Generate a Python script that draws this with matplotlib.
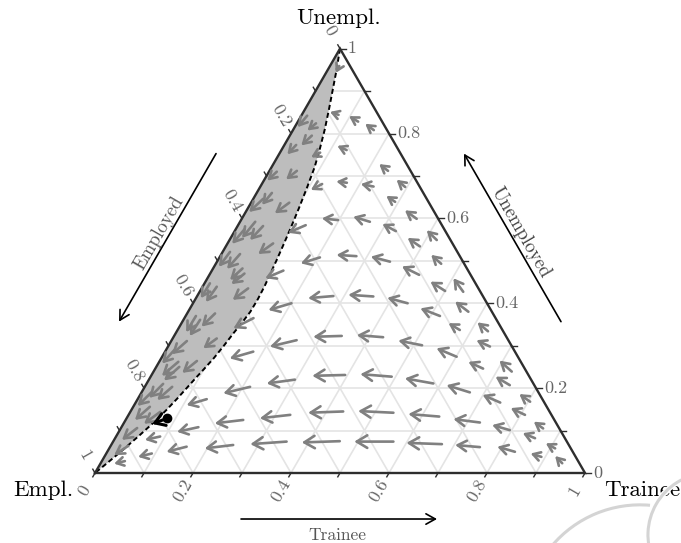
import numpy as np
import matplotlib
matplotlib.use("Agg")
import matplotlib.pyplot as plt
import matplotlib.patheffects as pe
from matplotlib.patches import Polygon, Arc

plt.rcParams['font.family'] = ['cmr10', 'DejaVu Serif']
plt.rcParams['axes.formatter.use_mathtext'] = True

# ---------------------------------------------------------------------------
# Data: shares (Trainee, Unemployed); Employed = 1 - Trainee - Unemployed
# ---------------------------------------------------------------------------
# one time step of the flow, outside the shaded basin
flow_t0 = [0.075, 0.123, 0.165, 0.133, 0.242, 0.296, 0.172, 0.231, 0.293, 0.357,
           0.423, 0.198, 0.265, 0.329, 0.396, 0.460, 0.138, 0.205, 0.278, 0.353,
           0.428, 0.500, 0.538, 0.146, 0.201, 0.278, 0.360, 0.438, 0.519, 0.572,
           0.141, 0.255, 0.342, 0.428, 0.517, 0.601, 0.576, 0.635, 0.657, 0.669,
           0.731, 0.180, 0.395, 0.492, 0.585, 0.670, 0.298, 0.215, 0.141, 0.743,
           0.744, 0.804, 0.809, 0.862, 0.796, 0.857, 0.910, 0.892, 0.942, 0.832,
           0.726, 0.636, 0.538, 0.434, 0.330, 0.240, 0.157, 0.090, 0.755, 0.674,
           0.572, 0.462, 0.354, 0.249, 0.156, 0.093, 0.047, 0.123]
flow_u0 = [0.844, 0.828, 0.808, 0.761, 0.712, 0.674, 0.684, 0.675, 0.639, 0.599,
           0.549, 0.596, 0.592, 0.570, 0.534, 0.493, 0.584, 0.508, 0.511, 0.498,
           0.467, 0.429, 0.427, 0.477, 0.400, 0.417, 0.416, 0.400, 0.370, 0.380,
           0.365, 0.313, 0.323, 0.320, 0.301, 0.274, 0.337, 0.334, 0.298, 0.246,
           0.239, 0.286, 0.231, 0.227, 0.211, 0.190, 0.220, 0.203, 0.174, 0.207,
           0.166, 0.168, 0.137, 0.105, 0.101, 0.082, 0.058, 0.038, 0.023, 0.050,
           0.119, 0.133, 0.142, 0.145, 0.137, 0.125, 0.108, 0.086, 0.061, 0.068,
           0.074, 0.075, 0.074, 0.066, 0.062, 0.046, 0.028, 0.681]
flow_t1 = [0.054, 0.098, 0.140, 0.109, 0.216, 0.270, 0.149, 0.202, 0.268, 0.323,
           0.391, 0.163, 0.225, 0.293, 0.361, 0.429, 0.111, 0.173, 0.236, 0.308,
           0.383, 0.459, 0.502, 0.118, 0.162, 0.229, 0.307, 0.390, 0.470, 0.533,
           0.112, 0.208, 0.285, 0.372, 0.463, 0.550, 0.545, 0.603, 0.622, 0.631,
           0.693, 0.140, 0.329, 0.425, 0.521, 0.614, 0.245, 0.168, 0.107, 0.704,
           0.699, 0.773, 0.772, 0.835, 0.754, 0.826, 0.885, 0.866, 0.919, 0.790,
           0.668, 0.570, 0.464, 0.364, 0.272, 0.186, 0.119, 0.063, 0.702, 0.600,
           0.492, 0.386, 0.283, 0.195, 0.121, 0.069, 0.028, 0.107]
flow_u1 = [0.851, 0.841, 0.823, 0.771, 0.728, 0.691, 0.687, 0.681, 0.653, 0.619,
           0.572, 0.600, 0.604, 0.587, 0.554, 0.514, 0.566, 0.494, 0.514, 0.510,
           0.487, 0.451, 0.459, 0.459, 0.384, 0.412, 0.420, 0.413, 0.388, 0.404,
           0.341, 0.298, 0.321, 0.325, 0.312, 0.294, 0.353, 0.355, 0.313, 0.262,
           0.265, 0.270, 0.229, 0.233, 0.223, 0.207, 0.211, 0.188, 0.160, 0.227,
           0.184, 0.186, 0.153, 0.121, 0.113, 0.094, 0.070, 0.046, 0.040, 0.062,
           0.127, 0.139, 0.146, 0.142, 0.129, 0.117, 0.097, 0.078, 0.066, 0.071,
           0.074, 0.072, 0.068, 0.058, 0.050, 0.038, 0.022, 0.667]

# one time step of the flow inside the shaded basin
basin_t0 = [0.019, 0.039, 0.082, 0.024, 0.016, 0.056, 0.020, 0.031, 0.078, 0.031,
            0.052, 0.093, 0.015, 0.038, 0.060, 0.011, 0.029, 0.095, 0.057, 0.021,
            0.034, 0.090, 0.032, 0.039, 0.076, 0.034, 0.056, 0.034, 0.061, 0.033,
            0.036, 0.012, 0.045, 0.018, 0.070, 0.017, 0.047, 0.020]
basin_u0 = [0.959, 0.824, 0.755, 0.773, 0.710, 0.712, 0.646, 0.660, 0.637, 0.592,
            0.582, 0.541, 0.521, 0.516, 0.482, 0.447, 0.439, 0.435, 0.376, 0.370,
            0.361, 0.317, 0.311, 0.262, 0.264, 0.210, 0.203, 0.156, 0.144, 0.106,
            0.064, 0.842, 0.795, 0.575, 0.470, 0.290, 0.250, 0.190]
basin_t1 = [0.020, 0.030, 0.069, 0.017, 0.007, 0.044, 0.007, 0.025, 0.061, 0.023,
            0.042, 0.075, 0.010, 0.029, 0.048, 0.010, 0.025, 0.077, 0.045, 0.020,
            0.032, 0.074, 0.017, 0.022, 0.060, 0.022, 0.041, 0.019, 0.042, 0.016,
            0.018, 0.006, 0.035, 0.010, 0.056, 0.008, 0.032, 0.008]
basin_u1 = [0.943, 0.807, 0.744, 0.751, 0.689, 0.692, 0.615, 0.632, 0.612, 0.554,
            0.549, 0.516, 0.486, 0.481, 0.455, 0.412, 0.403, 0.408, 0.345, 0.332,
            0.323, 0.294, 0.280, 0.229, 0.236, 0.177, 0.172, 0.125, 0.116, 0.078,
            0.042, 0.815, 0.772, 0.540, 0.445, 0.258, 0.218, 0.158]

# boundary of the basin (dashed curve), from the Unempl. corner down to Empl.
boundary_t = [0.0, 0.018, 0.048, 0.064, 0.078, 0.088, 0.096, 0.104, 0.111,
              0.116, 0.120, 0.123, 0.126, 0.1275, 0.127, 0.123, 0.118, 0.113,
              0.107, 0.100, 0.094, 0.087, 0.080, 0.072, 0.063, 0.047, 0.030,
              0.014, 0.0]
boundary_u = [1.0, 0.95, 0.86, 0.81, 0.76, 0.72, 0.675, 0.625, 0.575,
              0.535, 0.50, 0.47, 0.44, 0.41, 0.38, 0.355, 0.33, 0.30,
              0.27, 0.245, 0.225, 0.20, 0.175, 0.15, 0.125, 0.09, 0.055,
              0.025, 0.0]

# highlighted state and its next step
state_t, state_u = 0.083, 0.129
state_next_t, state_next_u = 0.059, 0.1155

tick_values = [0.0, 0.2, 0.4, 0.6, 0.8, 1.0]
tick_labels = ['0', '0.2', '0.4', '0.6', '0.8', '1']
corner_labels = ['Empl.', 'Trainee', 'Unempl.']
edge_titles = ['Employed', 'Unemployed', 'Trainee']

# ---------------------------------------------------------------------------
SQ3 = np.sqrt(3) / 2


def to_xy(t, u):
    t = np.asarray(t, float)
    u = np.asarray(u, float)
    return t + u / 2, u * SQ3


fig = plt.figure(figsize=(6.81, 5.43), dpi=100)
ax = fig.add_axes([0, 0, 1, 1])
ax.set_xlim(-0.19388, 1.19592)
ax.set_ylim(-0.142857, 0.965306)
ax.axis('off')

GRID = '#e4e4e4'
EDGE = '#2e2e2e'
TICKC = '#666666'

# grid every 0.1 in all three directions
for s in np.arange(1, 10) / 10:
    ax.plot(*to_xy([0, 1 - s], [s, s]), color=GRID, lw=1.2, zorder=1)
    ax.plot(*to_xy([s, s], [0, 1 - s]), color=GRID, lw=1.2, zorder=1)
    ax.plot(*to_xy([1 - s, 0], [0, 1 - s]), color=GRID, lw=1.2, zorder=1)

# shaded basin between the Employed edge and the dashed boundary
bx, by = to_xy(boundary_t, boundary_u)
ax.add_patch(Polygon(np.column_stack([bx, by]), closed=True,
                     facecolor='#bdbdbd', edgecolor='none', zorder=2))
ax.plot(bx, by, color='black', lw=1.4, ls=(0, (2.6, 1.6)), zorder=4,
        solid_joinstyle='round', dash_joinstyle='round')

# triangle outline
vx, vy = to_xy([0, 1, 0, 0], [0, 0, 1, 0])
ax.plot(vx, vy, color=EDGE, lw=1.7, zorder=4, solid_joinstyle='miter')

# ticks and tick labels
minor = np.arange(0, 11) / 10
tick_len = 0.009
lab_off = 0.042
d_bottom = np.array([-0.5, -SQ3])
d_left = np.array([-0.5, SQ3])
d_right = np.array([1.0, 0.0])
for v in minor:
    bxy = np.array(to_xy(v, 0))
    ax.plot(*zip(bxy, bxy + tick_len * d_bottom), color=EDGE, lw=1.0, zorder=4)
    lxy = np.array(to_xy(0, 1 - v))
    ax.plot(*zip(lxy, lxy + tick_len * d_left), color=EDGE, lw=1.0, zorder=4)
    rxy = np.array(to_xy(1 - v, v))
    ax.plot(*zip(rxy, rxy + 0.012 * d_right), color=EDGE, lw=1.0, zorder=4)

for v, lab in zip(tick_values, tick_labels):
    p = np.array(to_xy(v, 0)) + lab_off * d_bottom
    ax.text(p[0], p[1], lab, rotation=60, ha='center', va='center',
            fontsize=13, color=TICKC)
    p = np.array(to_xy(0, 1 - v)) + lab_off * d_left
    ax.text(p[0], p[1], lab, rotation=-60, ha='center', va='center',
            fontsize=13, color=TICKC)
    p = np.array(to_xy(1 - v, v)) + 0.016 * d_right
    ax.text(p[0], p[1], lab, ha='left', va='center', fontsize=13, color=TICKC)

# corner labels
ax.text(-0.045, -0.035, corner_labels[0], ha='right', va='center', fontsize=16.5)
ax.text(1.039, -0.035, corner_labels[1], ha='left', va='center', fontsize=16.5)
ax.text(0.498, 0.929, corner_labels[2], ha='center', va='center', fontsize=16.5)

# edge titles with direction arrows
edge_dir_l = np.array([-0.5, -SQ3])
norm_l = np.array([-SQ3, 0.5])
mid_l = np.array([0.25, SQ3 / 2]) + 0.112 * norm_l + 0.01 * edge_dir_l
edge_dir_r = np.array([-0.5, SQ3])
norm_r = np.array([SQ3, 0.5])
mid_r = np.array([0.75, SQ3 / 2]) + 0.112 * norm_r - 0.01 * edge_dir_r
half = 0.198
title_arrow = dict(arrowstyle='->,head_length=0.45,head_width=0.25', lw=1.2,
                   color='black', shrinkA=0, shrinkB=0, mutation_scale=15)
ax.annotate('', xy=mid_l + half * edge_dir_l, xytext=mid_l - half * edge_dir_l,
            arrowprops=title_arrow)
ax.annotate('', xy=mid_r + half * edge_dir_r, xytext=mid_r - half * edge_dir_r,
            arrowprops=title_arrow)
ax.annotate('', xy=(0.698, -0.0939), xytext=(0.298, -0.0939),
            arrowprops=title_arrow)
pl = mid_l + 0.02 * norm_l
ax.text(pl[0], pl[1], edge_titles[0], rotation=60, ha='center', va='center',
        fontsize=13.5, color='#555555')
pr = mid_r + 0.02 * norm_r
ax.text(pr[0], pr[1], edge_titles[1], rotation=-60, ha='center', va='center',
        fontsize=13.5, color='#444444')
ax.text(0.494, -0.1265, edge_titles[2], ha='center', va='center',
        fontsize=12.5, color='#555555')


# flow arrows
def draw_steps(t0, u0, t1, u1, color='#808080', lw=1.9):
    x0, y0 = to_xy(t0, u0)
    x1, y1 = to_xy(t1, u1)
    for a, b, c, d in zip(x0, y0, x1, y1):
        length = np.hypot(c - a, d - b)
        ms = 6.0 + 60 * length
        ax.annotate('', xy=(c, d), xytext=(a, b), zorder=5,
                    arrowprops=dict(arrowstyle='->,head_length=0.7,head_width=0.42',
                                    color=color, lw=lw, shrinkA=0, shrinkB=0,
                                    mutation_scale=ms))


draw_steps(flow_t0, flow_u0, flow_t1, flow_u1)
draw_steps(basin_t0, basin_u0, basin_t1, basin_u1)

# highlighted state
sx, sy = to_xy(state_t, state_u)
nx, ny = to_xy(state_next_t, state_next_u)
ax.annotate('', xy=(nx, ny), xytext=(sx, sy), zorder=7,
            arrowprops=dict(arrowstyle='->,head_length=0.7,head_width=0.45',
                            color='black', lw=2.2, shrinkA=0, shrinkB=0,
                            mutation_scale=10))
ax.plot(sx, sy, 'o', color='black', ms=6, zorder=8)

# faint emblem in the lower right corner
stroke = [pe.withStroke(linewidth=4, foreground='white')]
arc1 = Arc((1.255, -0.1265), 0.253, 0.253, theta1=95, theta2=205,
           color='#d4d4d4', lw=2.2, zorder=9)
arc1.set_path_effects(stroke)
ax.add_patch(arc1)
arc2 = Arc((1.1122, -0.30), 0.47, 0.47, theta1=85, theta2=140,
           color='#d4d4d4', lw=2.2, zorder=9)
arc2.set_path_effects(stroke)
ax.add_patch(arc2)

fig.savefig('out.png', dpi=100)
